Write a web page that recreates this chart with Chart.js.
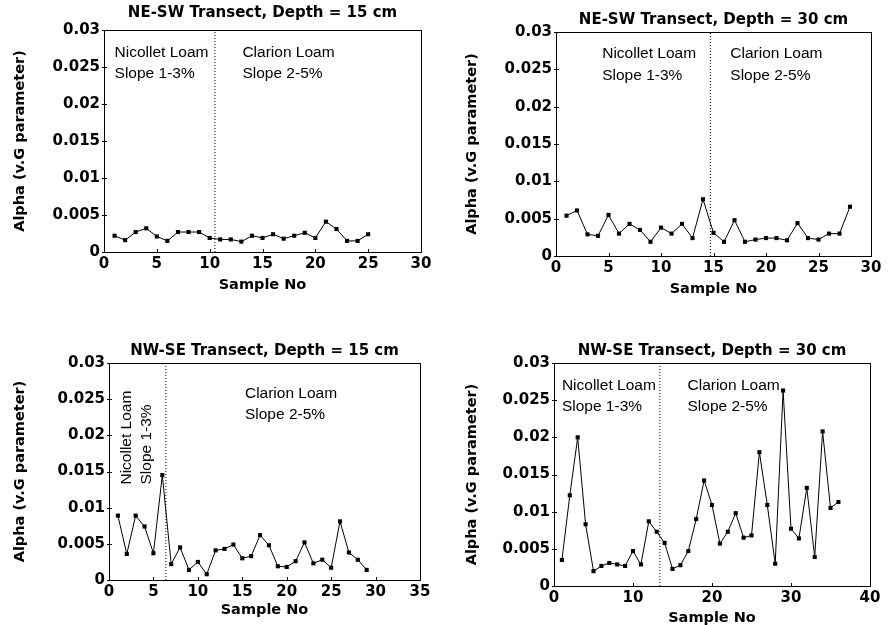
<!DOCTYPE html>
<html>
<head>
<meta charset="utf-8">
<script src="https://cdn.jsdelivr.net/npm/chart.js@4.4.1/dist/chart.umd.min.js"></script>
<style>
  html, body { margin: 0; padding: 0; background: #ffffff; }
  #wrap { position: relative; width: 889px; height: 625px; background: #fff; overflow: hidden; }
  .panel { position: absolute; }
</style>
</head>
<body>
<div id="wrap">
  <div class="panel" style="left:0px;top:0px;width:445px;height:300px"><canvas id="c1"></canvas></div>
  <div class="panel" style="left:445px;top:0px;width:444px;height:300px"><canvas id="c2"></canvas></div>
  <div class="panel" style="left:0px;top:310px;width:445px;height:315px"><canvas id="c3"></canvas></div>
  <div class="panel" style="left:445px;top:310px;width:444px;height:315px"><canvas id="c4"></canvas></div>
</div>
<script>
// ---------------- DATA ----------------
const yTickLabels = ['0', '0.005', '0.01', '0.015', '0.02', '0.025', '0.03'];
const xTicks30 = ['0', '5', '10', '15', '20', '25', '30'];
const xTicks35 = ['0', '5', '10', '15', '20', '25', '30', '35'];
const xTicks40 = ['0', '10', '20', '30', '40'];

const titles = [
  'NE-SW Transect, Depth = 15 cm',
  'NE-SW Transect, Depth = 30 cm',
  'NW-SE Transect, Depth = 15 cm',
  'NW-SE Transect, Depth = 30 cm'
];

// Alpha (v.G parameter) per sample number 1..n
const neSw15 = [0.0022, 0.0016, 0.0027, 0.0032, 0.0021, 0.0015, 0.0027, 0.0027, 0.0027, 0.0019,
                0.0017, 0.0017, 0.0014, 0.0022, 0.0019, 0.0024, 0.0018, 0.0022, 0.0026, 0.0019,
                0.0041, 0.0031, 0.0015, 0.0015, 0.0024];
const neSw30 = [0.0054, 0.0061, 0.0029, 0.0027, 0.0055, 0.0030, 0.0043, 0.0035, 0.0019, 0.0038,
                0.0030, 0.0043, 0.0024, 0.0076, 0.0031, 0.0019, 0.0048, 0.0019, 0.0022, 0.0024,
                0.0024, 0.0021, 0.0044, 0.0024, 0.0022, 0.0030, 0.0030, 0.0066];
const nwSe15 = [0.0089, 0.0036, 0.0089, 0.0074, 0.0037, 0.0145, 0.0022, 0.0045, 0.0014, 0.0025,
                0.0008, 0.0041, 0.0043, 0.0049, 0.0030, 0.0033, 0.0062, 0.0048, 0.0019, 0.0018,
                0.0026, 0.0052, 0.0023, 0.0028, 0.0017, 0.0081, 0.0038, 0.0028, 0.0014];
const nwSe30 = [0.0035, 0.0122, 0.0200, 0.0083, 0.0020, 0.0027, 0.0031, 0.0029, 0.0027, 0.0047,
                0.0029, 0.0087, 0.0073, 0.0058, 0.0023, 0.0028, 0.0047, 0.0090, 0.0142, 0.0109,
                0.0057, 0.0073, 0.0098, 0.0065, 0.0068, 0.0180, 0.0109, 0.0030, 0.0263, 0.0077,
                0.0064, 0.0132, 0.0039, 0.0208, 0.0105, 0.0113];

// soil boundary (sample no) for each transect
const boundaries = [10.5, 14.7, 6.4, 13.4];

// ---------------- LAYOUT / STYLE ----------------
const TICK_FONT = { family: 'DejaVu Sans', weight: 'bold', size: 15 };
const AXIS_FONT = { family: 'DejaVu Sans', weight: 'bold', size: 14.5, lineHeight: 1 };
const NOTE_FONT = '15.5px "Liberation Sans", Arial, sans-serif';

const panels = [
  { id: 'c1', title: titles[0], values: neSw15, boundary: boundaries[0], xMax: 30, xStep: 5, xLabels: xTicks30,
    yAxisW: 104, padTop: 30, padRight: 24, xAxisH: 48, titleY: 13, xTitlePad: 7.5, yTitlePad: 13,
    notes: [
      { x: 1.0, y: 0.0269, text: 'Nicollet Loam' }, { x: 1.0, y: 0.0241, text: 'Slope 1-3%' },
      { x: 13.1, y: 0.0269, text: 'Clarion Loam' }, { x: 13.1, y: 0.0241, text: 'Slope 2-5%' } ] },
  { id: 'c2', title: titles[1], values: neSw30, boundary: boundaries[1], xMax: 30, xStep: 5, xLabels: xTicks30,
    yAxisW: 111, padTop: 32, padRight: 18, xAxisH: 44, titleY: 20, xTitlePad: 3.5, yTitlePad: 19.5,
    notes: [
      { x: 4.4, y: 0.0271, text: 'Nicollet Loam' }, { x: 4.4, y: 0.0242, text: 'Slope 1-3%' },
      { x: 16.6, y: 0.0271, text: 'Clarion Loam' }, { x: 16.6, y: 0.0242, text: 'Slope 2-5%' } ] },
  { id: 'c3', title: titles[2], values: nwSe15, boundary: boundaries[2], xMax: 35, xStep: 5, xLabels: xTicks35,
    yAxisW: 109, padTop: 53, padRight: 25, xAxisH: 45, titleY: 41, xTitlePad: 7.5, yTitlePad: 13,
    notes: [
      { x: 2.0, y: 0.0132, text: 'Nicollet Loam', rotate: true },
      { x: 4.3, y: 0.0132, text: 'Slope 1-3%', rotate: true },
      { x: 15.3, y: 0.0257, text: 'Clarion Loam' }, { x: 15.3, y: 0.0228, text: 'Slope 2-5%' } ] },
  { id: 'c4', title: titles[3], values: nwSe30, boundary: boundaries[3], xMax: 40, xStep: 10, xLabels: xTicks40,
    yAxisW: 109, padTop: 53, padRight: 19, xAxisH: 39, titleY: 41, xTitlePad: 0, yTitlePad: 19.5,
    notes: [
      { x: 1.0, y: 0.0269, text: 'Nicollet Loam' }, { x: 1.0, y: 0.0241, text: 'Slope 1-3%' },
      { x: 16.9, y: 0.0269, text: 'Clarion Loam' }, { x: 16.9, y: 0.0241, text: 'Slope 2-5%' } ] }
];

// frame, small ticks, title and text notes
const decorPlugin = {
  id: 'decor',
  afterDatasetsDraw(chart, args, opts) {
    const ctx = chart.ctx;
    const a = chart.chartArea;
    const xs = chart.scales.x, ys = chart.scales.y;
    ctx.save();
    ctx.strokeStyle = '#000';
    ctx.lineWidth = 1;
    ctx.strokeRect(Math.round(a.left) + 0.5, Math.round(a.top) + 0.5,
                   Math.round(a.right - a.left), Math.round(a.bottom - a.top));
    // small tick marks
    ctx.beginPath();
    ys.ticks.forEach(t => {
      const py = Math.round(ys.getPixelForValue(t.value)) + 0.5;
      ctx.moveTo(a.left - 2, py); ctx.lineTo(a.left + 3, py);
    });
    xs.ticks.forEach(t => {
      const px = Math.round(xs.getPixelForValue(t.value)) + 0.5;
      ctx.moveTo(px, a.bottom + 1); ctx.lineTo(px, a.bottom - 3);
    });
    ctx.stroke();
    // title
    ctx.fillStyle = '#000';
    ctx.font = 'bold 15px "DejaVu Sans", sans-serif';
    ctx.textAlign = 'center';
    ctx.textBaseline = 'middle';
    ctx.fillText(opts.title, (a.left + a.right) / 2, opts.titleY);
    // notes
    ctx.font = NOTE_FONT;
    ctx.textAlign = 'left';
    opts.notes.forEach(n => {
      const px = xs.getPixelForValue(n.x), py = ys.getPixelForValue(n.y);
      if (n.rotate) {
        ctx.save();
        ctx.translate(px, py);
        ctx.rotate(-Math.PI / 2);
        ctx.fillText(n.text, 0, 0);
        ctx.restore();
      } else {
        ctx.fillText(n.text, px, py);
      }
    });
    ctx.restore();
  }
};

panels.forEach(p => {
  const points = p.values.map((v, i) => ({ x: i + 1, y: v }));
  new Chart(document.getElementById(p.id), {
    type: 'line',
    data: {
      datasets: [
        {
          data: points,
          borderColor: '#000',
          backgroundColor: '#000',
          borderWidth: 1,
          pointStyle: 'rect',
          pointRadius: 2.9,
          pointBorderWidth: 0,
          tension: 0
        },
        {
          data: [{ x: p.boundary, y: 0 }, { x: p.boundary, y: 0.03 }],
          borderColor: '#000',
          borderWidth: 1,
          borderDash: [1, 2],
          pointRadius: 0
        }
      ]
    },
    options: {
      responsive: true,
      maintainAspectRatio: false,
      animation: false,
      events: [],
      layout: { padding: { top: p.padTop, right: p.padRight, left: 0, bottom: 0 } },
      plugins: {
        legend: { display: false },
        tooltip: { enabled: false },
        decor: { title: p.title, titleY: p.titleY, notes: p.notes }
      },
      scales: {
        x: {
          type: 'linear',
          min: 0, max: p.xMax,
          grid: { display: false, drawTicks: false },
          border: { display: false },
          ticks: {
            stepSize: p.xStep, color: '#000', font: TICK_FONT, padding: 3, maxRotation: 0,
            callback: (v, i) => p.xLabels[i]
          },
          title: { display: true, text: 'Sample No', color: '#000', font: AXIS_FONT,
                   padding: { top: 0, bottom: p.xTitlePad } },
          afterFit: s => { s.height = p.xAxisH; }
        },
        y: {
          type: 'linear',
          min: 0, max: 0.03,
          grid: { display: false, drawTicks: false },
          border: { display: false },
          ticks: {
            stepSize: 0.005, color: '#000', font: TICK_FONT, padding: 4,
            callback: (v, i) => yTickLabels[i]
          },
          title: { display: true, text: 'Alpha (v.G parameter)', color: '#000', font: AXIS_FONT,
                   padding: { top: p.yTitlePad, bottom: 0 } },
          afterFit: s => { s.width = p.yAxisW; }
        }
      }
    },
    plugins: [decorPlugin]
  });
});
</script>
</body>
</html>
